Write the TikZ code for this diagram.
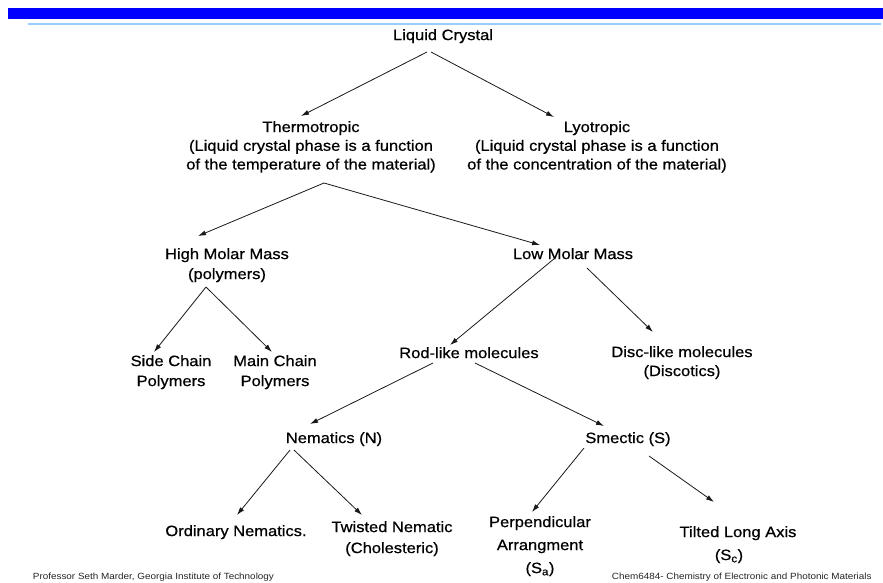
\documentclass[tikz,border=0pt]{standalone}
\usepackage{fontspec}
\setmainfont[FakeStretch=1.1]{Liberation Sans}
\newfontfamily\lblfont[FakeStretch=1.1,FakeBold=0.6]{Liberation Sans}
\usetikzlibrary{arrows.meta,calc}
\definecolor{barblue}{RGB}{0,0,255}
\definecolor{lineblue}{RGB}{153,204,255}
\begin{document}
\begin{tikzpicture}[x=1pt,y=-1pt,
  lbl/.style={anchor=north,inner sep=0pt,align=center,font=\lblfont\fontsize{15}{19}\selectfont},
  foot/.style={anchor=north west,inner sep=0pt,font=\fontsize{9}{11}\selectfont,text=black!85},
  conn/.style={-{Latex[length=8pt,width=5pt]},line width=0.8pt,draw=black!90}]
\useasboundingbox (0,0) rectangle (883,582);
% header bars
\fill[barblue] (8,8) rectangle (883,19);
\fill[lineblue] (28,22.7) rectangle (881,25.3);

% nodes
\node[lbl] (lc) at (443,29) {Liquid Crystal};
\node[lbl,font=\lblfont\fontsize{15}{18.7}\selectfont] (thermo) at (311,121)
  {Thermotropic\\(Liquid crystal phase is a function\\of the temperature of the material)};
\node[lbl,font=\lblfont\fontsize{15}{18.7}\selectfont] (lyo) at (597,121)
  {Lyotropic\\(Liquid crystal phase is a function\\of the concentration of the material)};
\node[lbl,font=\lblfont\fontsize{15}{20}\selectfont] (high) at (227,248) {High Molar Mass\\(polymers)};
\node[lbl] (low) at (573,248) {Low Molar Mass};
\node[lbl,font=\lblfont\fontsize{15}{20}\selectfont] (side) at (171,355) {Side Chain\\Polymers};
\node[lbl,font=\lblfont\fontsize{15}{20}\selectfont] (main) at (275,355) {Main Chain\\Polymers};
\node[lbl] (rod) at (469,347) {Rod-like molecules};
\node[lbl,font=\lblfont\fontsize{15}{19}\selectfont] (disc) at (682,346) {Disc-like molecules\\(Discotics)};
\node[lbl] (nem) at (334,432) {Nematics (N)};
\node[lbl] (sme) at (628,432) {Smectic (S)};
\node[lbl] (ord) at (236,525) {Ordinary Nematics.};
\node[lbl,font=\lblfont\fontsize{15}{21}\selectfont] (twi) at (392,521) {Twisted Nematic\\(Cholesteric)};
\node[lbl,font=\lblfont\fontsize{15}{23}\selectfont] (per) at (540,516) {Perpendicular\\Arrangment\\(S\textsubscript{a})};
\node[lbl,font=\lblfont\fontsize{15}{23}\selectfont] (til) at (738,526) {Tilted Long Axis\\(S\textsubscript{c})\hspace*{18pt}};

\node[foot] (fl) at (32.7,573) {Professor Seth Marder, Georgia Institute of Technology};
\node[foot] (fr) at (611.7,573) {Chem6484- Chemistry of Electronic and Photonic Materials};

% connectors
\draw[conn] ($(lc.north)+(-16,23)$) -- ($(thermo.north)+(-10,-5)$);
\draw[conn] ($(lc.north)+(-12,23)$) -- ($(lyo.north)+(-43,-4)$);
\draw[conn] ($(thermo.north)+(13,62)$) -- ($(high.north)+(-29,-12)$);
\draw[conn] ($(thermo.north)+(13,62)$) -- ($(low.north)+(-33,-3)$);
\draw[conn] ($(high.north)+(-21,39)$) -- ($(side.north)+(-17,-3)$);
\draw[conn] ($(high.north)+(-21,39)$) -- ($(main.north)+(-3,-3)$);
\draw[conn] ($(low.north)+(-18,10)$) -- ($(rod.north)+(-19,-2)$);
\draw[conn] ($(low.north)+(14,20)$) -- ($(disc.north)+(-29,-14)$);
\draw[conn] ($(rod.north)+(-36,16)$) -- ($(nem.north)+(-24,-8)$);
\draw[conn] ($(rod.north)+(6,16)$) -- ($(sme.north)+(-24,-6)$);
\draw[conn] ($(nem.north)+(-44,18)$) -- ($(ord.north)+(1,-10)$);
\draw[conn] ($(nem.north)+(-40,18)$) -- ($(twi.north)+(-30,-6)$);
\draw[conn] ($(sme.north)+(-44,16)$) -- ($(per.north)+(-8,-4)$);
\draw[conn] ($(sme.north)+(21,24)$) -- ($(til.north)+(-24,-24)$);
\end{tikzpicture}
\end{document}
